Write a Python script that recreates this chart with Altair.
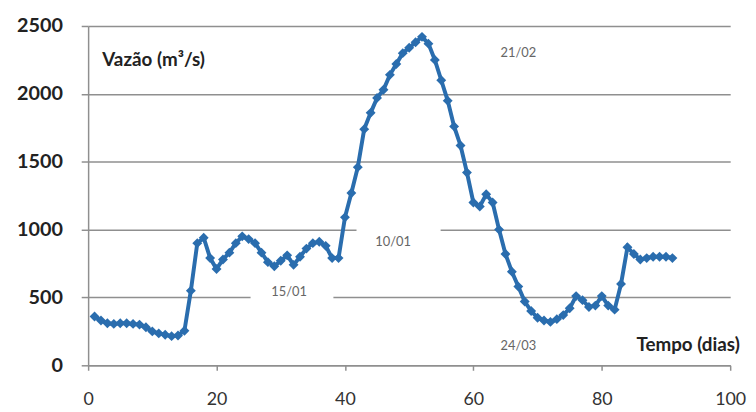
import altair as alt
import pandas as pd

# Data
days = list(range(1, 92))
vazao = [360, 330, 310, 305, 310, 310, 305, 300, 280, 250, 235, 225, 215, 220, 255, 550, 900, 940, 790, 710,
         780, 830, 900, 950, 930, 900, 830, 760, 730, 770, 810, 740, 800, 860, 900, 910, 880, 790, 790, 1090,
         1270, 1460, 1740, 1860, 1970, 2030, 2140, 2220, 2300, 2340, 2380, 2420, 2370, 2250, 2100, 1950, 1760, 1620, 1420, 1200,
         1170, 1260, 1200, 1000, 820, 690, 580, 470, 400, 350, 330, 320, 340, 370, 420, 510, 480, 430, 440, 510,
         440, 410, 600, 870, 820, 780, 790, 800, 800, 800, 790]

x_ticks = [0, 20, 40, 60, 80, 100]
y_ticks = [0, 500, 1000, 1500, 2000, 2500]

date_labels = ["21/02", "10/01", "15/01", "24/03"]
date_x = [67.0, 47.5, 31.3, 67.0]
date_y = [2300, 905, 540, 140]

title_texts = ["Vazão (m³/s)", "Tempo (dias)"]
title_x = [2.2, 101.5]
title_y = [2250, 146]

gap_x = [25.3, 41.8]
gap_x2 = [38.2, 54.9]
gap_y = [450, 950]
gap_y2 = [550, 1050]

BLUE = "#2A6DAE"
GRID = "#8f8f8f"
FONT = "Lato"

x_scale = alt.Scale(domain=[0, 100], nice=False)
y_scale = alt.Scale(domain=[0, 2500], nice=False)

df = pd.DataFrame({"dia": days, "vazao": vazao})
dates_df = pd.DataFrame({"t": date_labels, "x": date_x, "y": date_y})
gaps_df = pd.DataFrame({"x": gap_x, "x2": gap_x2, "y": gap_y, "y2": gap_y2})
titles_l = pd.DataFrame({"t": [title_texts[0]], "x": [title_x[0]], "y": [title_y[0]]})
titles_r = pd.DataFrame({"t": [title_texts[1]], "x": [title_x[1]], "y": [title_y[1]]})

x_axis = alt.Axis(values=x_ticks, title=None, grid=False, labelFont=FONT, labelFontSize=18, format="d",
                  labelColor="#333333", labelPadding=21, tickSize=5, labelFlush=False)
y_axis = alt.Axis(values=y_ticks, title=None, grid=True, labelFont=FONT, labelFontSize=20, format="d",
                  labelFontWeight="bold", labelColor="#222222", labelPadding=19, tickSize=7)

gaps = alt.Chart(gaps_df).mark_rect(color="white").encode(
    x=alt.X("x:Q", scale=x_scale, axis=x_axis),
    x2="x2:Q",
    y=alt.Y("y:Q", scale=y_scale, axis=y_axis),
    y2="y2:Q",
)

dates = alt.Chart(dates_df).mark_text(font=FONT, fontSize=13, color="#666666").encode(
    x=alt.X("x:Q", scale=x_scale), y=alt.Y("y:Q", scale=y_scale), text="t:N")

tl = alt.Chart(titles_l).mark_text(font=FONT, fontSize=19, fontWeight="bold", color="#222222", align="left").encode(
    x=alt.X("x:Q", scale=x_scale), y=alt.Y("y:Q", scale=y_scale), text="t:N")
tr = alt.Chart(titles_r).mark_text(font=FONT, fontSize=19, fontWeight="bold", color="#222222", align="right").encode(
    x=alt.X("x:Q", scale=x_scale), y=alt.Y("y:Q", scale=y_scale), text="t:N")

line = alt.Chart(df).mark_line(
    color=BLUE, strokeWidth=4,
    point=alt.OverlayMarkDef(shape="diamond", size=100, color=BLUE, filled=True, opacity=1),
).encode(x=alt.X("dia:Q", scale=x_scale), y=alt.Y("vazao:Q", scale=y_scale))

chart = alt.layer(gaps, dates, tl, tr, line).properties(
    width=649, height=343,
    autosize=alt.AutoSizeParams(type="none"),
    padding={"left": 81, "top": 16, "right": 18, "bottom": 44},
).configure_view(stroke=None).configure_axis(
    domainColor=GRID, gridColor=GRID, tickColor=GRID, gridWidth=1.5, domainWidth=1.5, tickWidth=1.5
)

chart.save("out.html", embed_options={"renderer": "svg", "actions": False})
